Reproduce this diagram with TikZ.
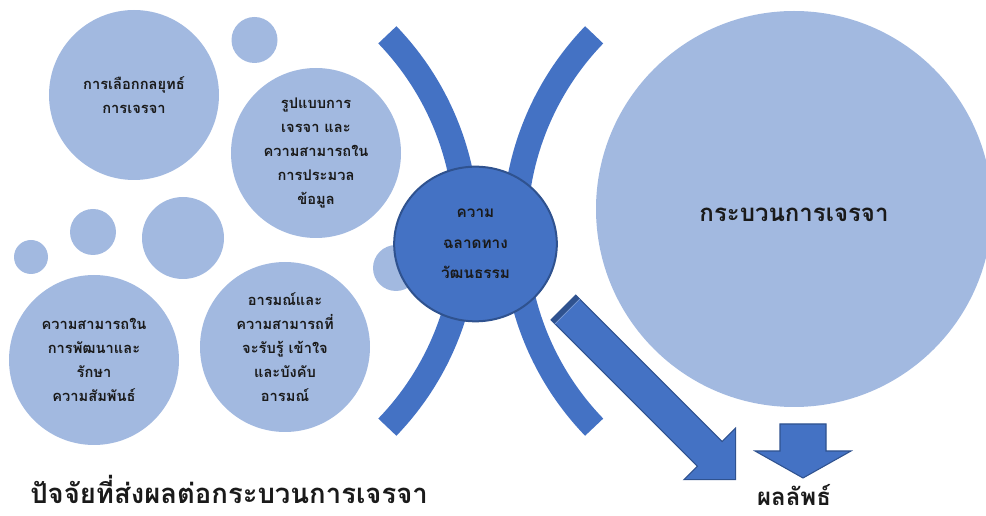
\documentclass[tikz,border=0pt]{standalone}
\usepackage{fontspec}
\setmainfont[Script=Thai]{Loma}
\usetikzlibrary{shapes.geometric}
\definecolor{lightblue}{HTML}{A2B9E0}
\definecolor{midblue}{HTML}{4472C4}
\definecolor{edgeblue}{HTML}{2F528F}
\definecolor{inkblack}{HTML}{1A1A1A}

\begin{document}
\begin{tikzpicture}[x=0.75pt,y=-0.75pt,
  bubble/.style={circle, fill=lightblue, inner sep=0pt, minimum size=#1,
    align=center, text=inkblack, font=\fontsize{11}{18}\selectfont\bfseries},
  dot/.style={circle, fill=lightblue, inner sep=0pt, minimum size=#1},
  band/.style={draw=midblue, line width=18.75pt, line cap=butt},
  core/.style={ellipse, fill=midblue, draw=edgeblue, line width=1.5pt,
    minimum width=122pt, minimum height=116pt, inner sep=0pt, align=center,
    text=inkblack, font=\fontsize{11.5}{23}\selectfont\bfseries},
  blockarrow/.style={fill=midblue, draw=edgeblue, line width=0.8pt, line join=miter},
  label/.style={text=inkblack, inner sep=0pt}]
\useasboundingbox (0,0) rectangle (986,516);

% factor bubbles and small decorative dots
\node[bubble=127.5pt] (choice) at (134,95) {การเลือกกลยุทธ์\\การเจรจา};
\node[dot=34.5pt] (dotA) at (254.5,40) {};
\node[bubble=127.5pt] (style) at (316,153) {รูปแบบการ\\เจรจา และ\\ความสามารถใน\\การประมวล\\ข้อมูล};
\node[dot=34.5pt] (dotB) at (93,232) {};
\node[dot=61.5pt] (dotC) at (183,238) {};
\node[dot=25.5pt] (dotD) at (31,257) {};
\node[dot=34.5pt] (dotE) at (396,268) {};
\node[bubble=127.5pt] (relation) at (94,360) {ความสามารถใน\\การพัฒนาและ\\รักษา\\ความสัมพันธ์};
\node[bubble=127.5pt] (emotion) at (285,347) {อารมณ์และ\\ความสามารถที่\\จะรับรู้ เข้าใจ\\และบังคับ\\อารมณ์};

% large process circle
\node[dot=297pt] (process) at (794,209) {};
\node[label, anchor=base, font=\fontsize{18}{21}\selectfont\bfseries] (processText) at (794,222) {กระบวนการเจรจา};

% two curved bands around the centre
\draw[band] plot[domain=-44:44, samples=90] ({184.2+282.4*cos(\x)},{231+282.4*sin(\x)});
\draw[band] plot[domain=136:224, samples=90] ({797.3+282.4*cos(\x)},{231+282.4*sin(\x)});

% centre: cultural intelligence
\node[core] (cq) at (475.5,244) {ความ\\ฉลาดทาง\\วัฒนธรรม};

% diagonal block arrow with a darker tail strip
\coordinate (tailA) at (551.0,319.9);
\coordinate (tailB) at (575.8,295.1);
\coordinate (neckB) at (722.1,441.5);
\coordinate (barbB) at (735.6,428.1);
\coordinate (tip) at (735.6,479.7);
\coordinate (barbA) at (684.0,479.7);
\coordinate (neckA) at (697.4,466.2);
\draw[blockarrow] (tailA) -- (tailB) -- (neckB) -- (barbB) -- (tip) -- (barbA) -- (neckA) -- cycle;
\fill[edgeblue] (tailA) -- (tailB) -- (579.8,299.1) -- (555.0,323.9) -- cycle;
\draw[midblue!70!white, line width=0.6pt] (555.0,323.9) -- (579.8,299.1);

% downward block arrow
\draw[blockarrow] (780,424) -- (826,424) -- (826,451) -- (851,451) -- (803,478)
  -- (755,451) -- (780,451) -- cycle;

% captions
\node[label, anchor=base west, font=\fontsize{20.6}{24}\selectfont\bfseries] (title) at (30,504) {ปัจจัยที่ส่งผลต่อกระบวนการเจรจา};
\node[label, anchor=base, font=\fontsize{18}{21}\selectfont\bfseries] (outcome) at (794,506) {ผลลัพธ์};
\end{tikzpicture}
\end{document}
